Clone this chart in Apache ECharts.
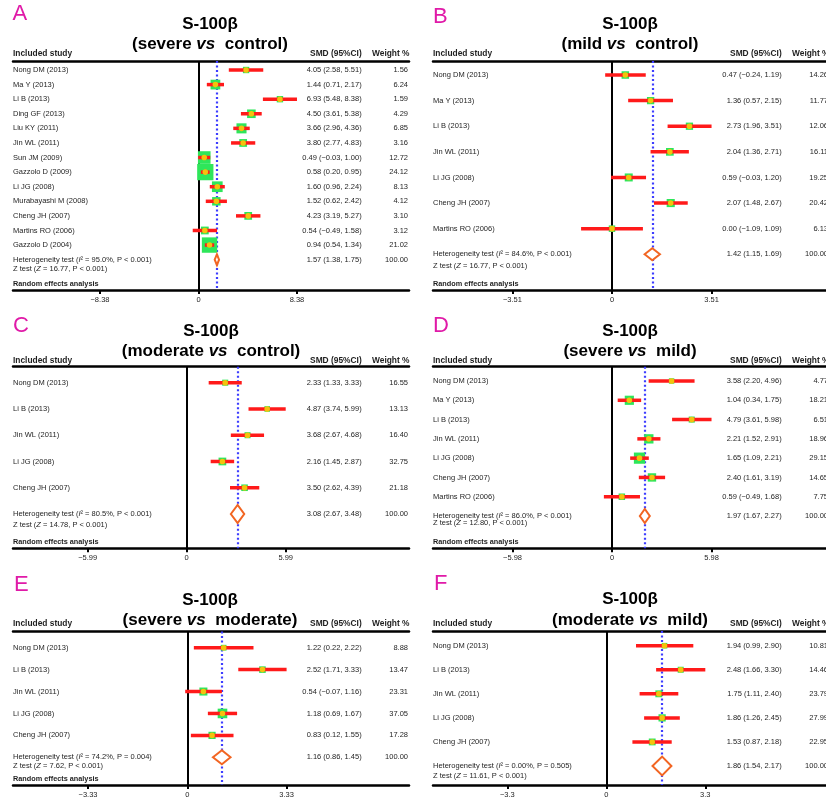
<!DOCTYPE html>
<html>
<head>
<meta charset="utf-8">
<title>S-100β forest plots</title>
<script src="https://cdn.jsdelivr.net/npm/echarts@6/dist/echarts.min.js"></script>
<style>
  html, body { margin: 0; padding: 0; background: #fff; }
  #chart { width: 826px; height: 801px; }
</style>
</head>
<body>
<div id="chart"></div>
<script>
// ---- Panel A: severe vs control ----
const studiesA = ['Nong DM (2013)', 'Ma Y (2013)', 'Li B (2013)', 'Ding GF (2013)', 'Liu KY (2011)', 'Jin WL (2011)', 'Sun JM (2009)', 'Gazzolo D (2009)', 'Li JG (2008)', 'Murabayashi M (2008)', 'Cheng JH (2007)', 'Martins RO (2006)', 'Gazzolo D (2004)'];
const smdA = [4.05, 1.44, 6.93, 4.50, 3.66, 3.80, 0.49, 0.58, 1.60, 1.52, 4.23, 0.54, 0.94];
const lowA = [2.58, 0.71, 5.48, 3.61, 2.96, 2.77, -0.03, 0.20, 0.96, 0.62, 3.19, -0.49, 0.54];
const highA = [5.51, 2.17, 8.38, 5.38, 4.36, 4.83, 1.00, 0.95, 2.24, 2.42, 5.27, 1.58, 1.34];
const weightA = [1.56, 6.24, 1.59, 4.29, 6.85, 3.16, 12.72, 24.12, 8.13, 4.12, 3.10, 3.12, 21.02];
const pooledA = [1.57, 1.38, 1.75];
const hetA = ['95.0%', 'P < 0.001'];
const ztestA = ['16.77', 'P < 0.001'];
const ticksA = [-8.38, 0, 8.38];

// ---- Panel B: mild vs control ----
const studiesB = ['Nong DM (2013)', 'Ma Y (2013)', 'Li B (2013)', 'Jin WL (2011)', 'Li JG (2008)', 'Cheng JH (2007)', 'Martins RO (2006)'];
const smdB = [0.47, 1.36, 2.73, 2.04, 0.59, 2.07, 0.00];
const lowB = [-0.24, 0.57, 1.96, 1.36, -0.03, 1.48, -1.09];
const highB = [1.19, 2.15, 3.51, 2.71, 1.20, 2.67, 1.09];
const weightB = [14.26, 11.77, 12.06, 16.11, 19.25, 20.42, 6.13];
const pooledB = [1.42, 1.15, 1.69];
const hetB = ['84.6%', 'P < 0.001'];
const ztestB = ['16.77', 'P < 0.001'];
const ticksB = [-3.51, 0, 3.51];

// ---- Panel C: moderate vs control ----
const studiesC = ['Nong DM (2013)', 'Li B (2013)', 'Jin WL (2011)', 'Li JG (2008)', 'Cheng JH (2007)'];
const smdC = [2.33, 4.87, 3.68, 2.16, 3.50];
const lowC = [1.33, 3.74, 2.67, 1.45, 2.62];
const highC = [3.33, 5.99, 4.68, 2.87, 4.39];
const weightC = [16.55, 13.13, 16.40, 32.75, 21.18];
const pooledC = [3.08, 2.67, 3.48];
const hetC = ['80.5%', 'P < 0.001'];
const ztestC = ['14.78', 'P < 0.001'];
const ticksC = [-5.99, 0, 5.99];

// ---- Panel D: severe vs mild ----
const studiesD = ['Nong DM (2013)', 'Ma Y (2013)', 'Li B (2013)', 'Jin WL (2011)', 'Li JG (2008)', 'Cheng JH (2007)', 'Martins RO (2006)'];
const smdD = [3.58, 1.04, 4.79, 2.21, 1.65, 2.40, 0.59];
const lowD = [2.20, 0.34, 3.61, 1.52, 1.09, 1.61, -0.49];
const highD = [4.96, 1.75, 5.98, 2.91, 2.21, 3.19, 1.68];
const weightD = [4.77, 18.21, 6.51, 18.96, 29.15, 14.65, 7.75];
const pooledD = [1.97, 1.67, 2.27];
const hetD = ['86.0%', 'P < 0.001'];
const ztestD = ['12.80', 'P < 0.001'];
const ticksD = [-5.98, 0, 5.98];

// ---- Panel E: severe vs moderate ----
const studiesE = ['Nong DM (2013)', 'Li B (2013)', 'Jin WL (2011)', 'Li JG (2008)', 'Cheng JH (2007)'];
const smdE = [1.22, 2.52, 0.54, 1.18, 0.83];
const lowE = [0.22, 1.71, -0.07, 0.69, 0.12];
const highE = [2.22, 3.33, 1.16, 1.67, 1.55];
const weightE = [8.88, 13.47, 23.31, 37.05, 17.28];
const pooledE = [1.16, 0.86, 1.45];
const hetE = ['74.2%', 'P = 0.004'];
const ztestE = ['7.62', 'P < 0.001'];
const ticksE = [-3.33, 0, 3.33];

// ---- Panel F: moderate vs mild ----
const studiesF = ['Nong DM (2013)', 'Li B (2013)', 'Jin WL (2011)', 'Li JG (2008)', 'Cheng JH (2007)'];
const smdF = [1.94, 2.48, 1.75, 1.86, 1.53];
const lowF = [0.99, 1.66, 1.11, 1.26, 0.87];
const highF = [2.90, 3.30, 2.40, 2.45, 2.18];
const weightF = [10.81, 14.46, 23.79, 27.99, 22.95];
const pooledF = [1.86, 1.54, 2.17];
const hetF = ['0.00%', 'P = 0.505'];
const ztestF = ['11.61', 'P < 0.001'];
const ticksF = [-3.3, 0, 3.3];

const FONT = '"Liberation Sans", Arial, Helvetica, sans-serif';
const INK = '#1e1e1e';
const COL = { square: '#2ee65a', ci: '#ff1a1a', dot: '#f4c20d', diamond: '#f26522', pooled: '#3d3dff', magenta: '#e01aa8' };

// Panel layout (pixel frame of each plot, axis windows, sizes)
const panels = [
  { letter: 'A', contrast: ['severe', 'control'], studies: studiesA, smd: smdA, low: lowA, high: highA, weight: weightA, pooled: pooledA, het: hetA, ztest: ztestA, ticks: ticksA,
    lx: 12.5, ly: 14, cx: 210, t1: 24, t2: 44.5, left: 13, top: 61, bottom: 290, xMin: -15.78, xMax: 17.91, yMin: -0.617, yMax: 15.08, headDy: -7.5, zDy: 9.3, dia: 10.7, sq: [3, 2.7], random: true },
  { letter: 'B', contrast: ['mild', 'control'], studies: studiesB, smd: smdB, low: lowB, high: highB, weight: weightB, pooled: pooledB, het: hetB, ztest: ztestB, ticks: ticksB,
    lx: 433, ly: 17, cx: 630, t1: 24, t2: 44, left: 433, top: 61, bottom: 290, xMin: -6.31, xMax: 7.65, yMin: -0.547, yMax: 8.395, headDy: -7.5, zDy: 11.7, dia: 12, sq: [4.5, 0.8], random: true },
  { letter: 'C', contrast: ['moderate', 'control'], studies: studiesC, smd: smdC, low: lowC, high: highC, weight: weightC, pooled: pooledC, het: hetC, ztest: ztestC, ticks: ticksC,
    lx: 13, ly: 326, cx: 211, t1: 331, t2: 351, left: 13, top: 366.7, bottom: 548.3, xMin: -10.51, xMax: 13.45, yMin: -0.609, yMax: 6.306, headDy: -5.7, zDy: 11, dia: 18, sq: [2, 1.0], random: true },
  { letter: 'D', contrast: ['severe', 'mild'], studies: studiesD, smd: smdD, low: lowD, high: highD, weight: weightD, pooled: pooledD, het: hetD, ztest: ztestD, ticks: ticksD,
    lx: 433, ly: 326, cx: 630, t1: 331, t2: 351, left: 433, top: 366.7, bottom: 548.3, xMin: -10.76, xMax: 13.04, yMin: -0.741, yMax: 8.673, headDy: -5.7, zDy: 7.3, dia: 14, sq: [1.5, 1.8], random: true },
  { letter: 'E', contrast: ['severe', 'moderate'], studies: studiesE, smd: smdE, low: lowE, high: highE, weight: weightE, pooled: pooledE, het: hetE, ztest: ztestE, ticks: ticksE,
    lx: 14, ly: 584.5, cx: 210, t1: 600, t2: 620.5, left: 13, top: 631.5, bottom: 785, xMin: -5.845, xMax: 7.435, yMin: -0.739, yMax: 6.264, headDy: -8.2, zDy: 8.7, dia: 14, sq: [2, 1.25], random: true },
  { letter: 'F', contrast: ['moderate', 'mild'], studies: studiesF, smd: smdF, low: lowF, high: highF, weight: weightF, pooled: pooledF, het: hetF, ztest: ztestF, ticks: ticksF,
    lx: 434, ly: 583.5, cx: 630, t1: 599, t2: 620, left: 433, top: 631, bottom: 785, xMin: -5.777, xMax: 7.423, yMin: -0.611, yMax: 5.79, headDy: -7.8, zDy: 9.7, dia: 18.7, sq: [3, 0.8], random: false }
];

const PANEL_W = 396;
const COL_SMD = 348.7;
const COL_W = 395;
const COL_WHEAD = 396.5;

function num(v) {
  const s = Math.abs(v).toFixed(2);
  return v < 0 ? '\u2212' + s : s;
}
function ciText(m, lo, hi) {
  return num(m) + ' (' + num(lo) + ', ' + num(hi) + ')';
}
function tickText(v) {
  if (v === 0) return '0';
  return v < 0 ? '\u2212' + String(Math.abs(v)) : String(v);
}

function textEl(text, x, y, align, opts) {
  const st = Object.assign({
    text: text, x: x, y: y, fill: INK,
    fontFamily: FONT, fontSize: 7.5, fontWeight: 'normal',
    align: align, textAlign: align, verticalAlign: 'middle', textVerticalAlign: 'middle'
  }, opts || {});
  return { type: 'text', style: st };
}

function italicRich(size) {
  return { i: { fontStyle: 'italic', fontSize: size, fontFamily: FONT, fill: INK } };
}

function makeRenderer(p) {
  return function (params, api) {
    const i = params.dataIndex;
    const row = api.value(0);
    const c = api.coord([api.value(1), row]);
    const l = api.coord([api.value(2), row]);
    const h = api.coord([api.value(3), row]);
    const w = api.value(4);
    const kind = api.value(5);
    const cs = params.coordSys;
    const x0 = cs.x;
    const y = c[1];
    const kids = [];
    if (kind === 0) {
      const s = p.sq[0] + p.sq[1] * Math.sqrt(w);
      kids.push({ type: 'rect', shape: { x: c[0] - s / 2, y: y - s / 2, width: s, height: s }, style: { fill: COL.square } });
      kids.push({ type: 'line', shape: { x1: l[0], y1: y, x2: h[0], y2: y }, style: { stroke: COL.ci, lineWidth: 3.5 } });
      kids.push({ type: 'circle', shape: { cx: c[0], cy: y, r: 2.8 }, style: { fill: COL.dot } });
      kids.push(textEl(p.studies[i], x0, y, 'left'));
      kids.push(textEl(ciText(p.smd[i], p.low[i], p.high[i]), x0 + COL_SMD, y, 'right'));
      kids.push(textEl(p.weight[i].toFixed(2), x0 + COL_W, y, 'right'));
    } else {
      const dh = p.dia / 2;
      kids.push({ type: 'polygon', shape: { points: [[l[0], y], [c[0], y - dh], [h[0], y], [c[0], y + dh]] },
                  style: { fill: '#ffffff', stroke: COL.diamond, lineWidth: 2 } });
      kids.push(textEl('Heterogeneity test ({i|I}\u00b2 = ' + p.het[0] + ', ' + p.het[1] + ')', x0, y, 'left', { rich: italicRich(7.5) }));
      kids.push(textEl('Z test ({i|Z} = ' + p.ztest[0] + ', ' + p.ztest[1] + ')', x0, y + p.zDy, 'left', { rich: italicRich(7.5) }));
      kids.push(textEl(ciText(p.pooled[0], p.pooled[1], p.pooled[2]), x0 + COL_SMD, y, 'right'));
      kids.push(textEl('100.00', x0 + COL_W, y, 'right'));
      // column headers above the top rule
      const hy = cs.y + p.headDy;
      kids.push(textEl('Included study', x0, hy, 'left', { fontWeight: 'bold', fontSize: 8.4 }));
      kids.push(textEl('SMD (95%CI)', x0 + COL_SMD, hy, 'right', { fontWeight: 'bold', fontSize: 8.4 }));
      kids.push(textEl('Weight %', x0 + COL_WHEAD, hy, 'right', { fontWeight: 'bold', fontSize: 8.4 }));
      if (p.random) {
        kids.push(textEl('Random effects analysis', x0, cs.y + cs.height - 6, 'left', { fontWeight: 'bold', fontSize: 7.3 }));
      }
    }
    return { type: 'group', children: kids };
  };
}

const grid = [], xAxis = [], yAxis = [], series = [], graphics = [];

panels.forEach(function (p, k) {
  grid.push({ left: p.left, top: p.top, width: PANEL_W, height: p.bottom - p.top, containLabel: false, outerBoundsMode: 'none' });
  xAxis.push({
    type: 'value', gridIndex: k, position: 'bottom', min: p.xMin, max: p.xMax,
    axisLine: { show: true, onZero: false, lineStyle: { color: '#000', width: 2.5 } },
    axisTick: { show: true, customValues: p.ticks, length: 4, inside: false, lineStyle: { color: '#000', width: 2 } },
    axisLabel: { show: true, customValues: p.ticks, formatter: tickText, margin: 6, fontSize: 7.5, fontFamily: FONT, color: INK },
    splitLine: { show: false }
  });
  xAxis.push({
    type: 'value', gridIndex: k, position: 'top', min: p.xMin, max: p.xMax,
    axisLine: { show: true, onZero: false, lineStyle: { color: '#000', width: 2.5 } },
    axisTick: { show: false }, axisLabel: { show: false }, splitLine: { show: false }
  });
  yAxis.push({ type: 'value', gridIndex: k, inverse: true, min: p.yMin, max: p.yMax, show: false,
    axisLine: { onZero: false } });

  const rows = p.studies.map(function (name, i) {
    return [i, p.smd[i], p.low[i], p.high[i], p.weight[i], 0];
  });
  rows.push([p.studies.length, p.pooled[0], p.pooled[1], p.pooled[2], 100, 1]);

  series.push({
    type: 'custom', name: 'S-100β ' + p.letter, xAxisIndex: 2 * k, yAxisIndex: k, z: 3,
    renderItem: makeRenderer(p), encode: { x: [1, 2, 3], y: 0 }, data: rows, silent: true,
    markLine: {
      silent: true, z: 1, symbol: ['none', 'none'], label: { show: false }, animation: false,
      data: [
        { xAxis: 0, lineStyle: { color: '#000', width: 2, type: 'solid' } },
        { xAxis: p.pooled[0], lineStyle: { color: COL.pooled, width: 2.2, type: [2, 2.5] } }
      ]
    }
  });

  graphics.push({ type: 'text', silent: true, style: { text: p.letter, x: p.lx, y: p.ly, fill: COL.magenta, fontFamily: FONT, fontSize: 22,
    align: 'left', textAlign: 'left', verticalAlign: 'middle', textVerticalAlign: 'middle' } });
  graphics.push({ type: 'text', silent: true, style: { text: 'S-100β', x: p.cx, y: p.t1, fill: '#000', fontFamily: FONT, fontSize: 17, fontWeight: 'bold',
    align: 'center', textAlign: 'center', verticalAlign: 'middle', textVerticalAlign: 'middle' } });
  graphics.push({ type: 'text', silent: true, style: { text: '(' + p.contrast[0] + ' {v|vs}  ' + p.contrast[1] + ')', x: p.cx, y: p.t2, fill: '#000',
    fontFamily: FONT, fontSize: 17, fontWeight: 'bold', align: 'center', textAlign: 'center', verticalAlign: 'middle', textVerticalAlign: 'middle',
    rich: { v: { fontStyle: 'italic', fontWeight: 'bold', fontSize: 17, fontFamily: FONT, fill: '#000' } } } });
});

const chart = echarts.init(document.getElementById('chart'), null, { renderer: 'canvas' });
chart.setOption({
  animation: false,
  backgroundColor: '#ffffff',
  grid: grid,
  xAxis: xAxis,
  yAxis: yAxis,
  series: series,
  graphic: { elements: graphics }
});
</script>
</body>
</html>
